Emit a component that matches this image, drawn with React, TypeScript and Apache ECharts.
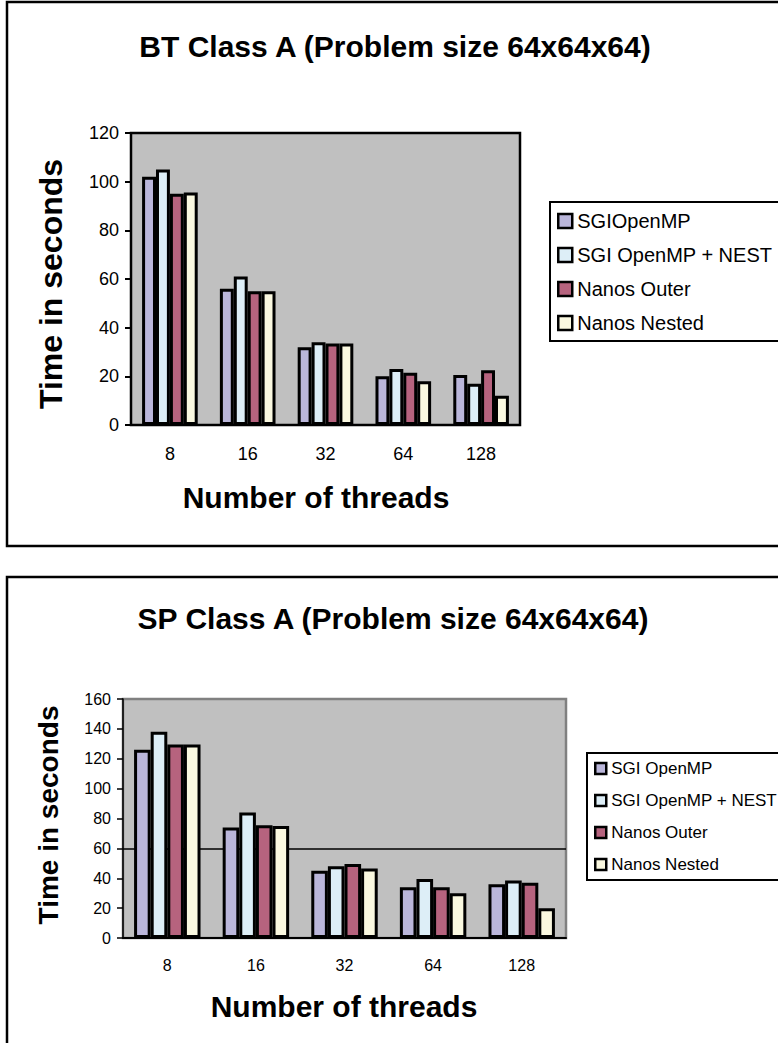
import React, { useEffect, useRef } from "react";
import * as echarts from "echarts";

const categories = ["8", "16", "32", "64", "128"];

const btTitle = "BT Class A (Problem size 64x64x64)";
const spTitle = "SP Class A (Problem size 64x64x64)";
const yTitle = "Time in seconds";
const xTitle = "Number of threads";

const btNames = ["SGIOpenMP", "SGI OpenMP + NEST", "Nanos Outer", "Nanos Nested"];
const spNames = ["SGI OpenMP", "SGI OpenMP + NEST", "Nanos Outer", "Nanos Nested"];

const btSgi = [102, 56, 32, 20, 20.5];
const btSgiNest = [105, 61, 34, 23, 17];
const btNanosOuter = [95, 55, 33.5, 21.5, 22.5];
const btNanosNested = [95.5, 55, 33.5, 18, 12];

const spSgi = [126, 74, 45, 34, 36];
const spSgiNest = [138, 84, 48, 39.5, 38.5];
const spNanosOuter = [129.5, 75.5, 49.5, 34, 37];
const spNanosNested = [129.5, 75, 46.5, 30, 20];

const spRefLine = [60];

const colors = ["#bab6da", "#ddeef7", "#b6637e", "#faf8e0"];
const FONT = "Liberation Sans, Arial, sans-serif";

export default function App() {
  const ref = useRef<HTMLDivElement>(null);

  useEffect(() => {
    document.body.style.margin = "0";
    if (!ref.current) return;
    const chart = echarts.init(ref.current, null, { renderer: "svg" });

    const btData = [btSgi, btSgiNest, btNanosOuter, btNanosNested];
    const spData = [spSgi, spSgiNest, spNanosOuter, spNanosNested];

    const series: any[] = [];
    btData.forEach((d, i) => {
      series.push({
        type: "bar",
        name: btNames[i],
        xAxisIndex: 0,
        yAxisIndex: 0,
        data: d,
        barGap: "0%",
        barCategoryGap: "28.5%",
        z: 2,
        itemStyle: { color: colors[i], borderColor: "#000", borderWidth: 3 },
      });
    });
    spData.forEach((d, i) => {
      const s: any = {
        type: "bar",
        name: spNames[i],
        xAxisIndex: 1,
        yAxisIndex: 1,
        data: d,
        barGap: "0%",
        barCategoryGap: "25%",
        z: 2,
        itemStyle: { color: colors[i], borderColor: "#000", borderWidth: 3 },
      };
      if (i === 0) {
        s.markLine = {
          silent: true,
          symbol: "none",
          z: 1,
          label: { show: false },
          lineStyle: { color: "#000", width: 1.5, type: "solid" },
          data: spRefLine.map((v) => ({ yAxis: v })),
        };
      }
      series.push(s);
    });

    const axisText = (size: number) => ({
      color: "#000",
      fontSize: size,
      fontFamily: FONT,
    });

    chart.setOption({
      animation: false,
      textStyle: { fontFamily: FONT },
      grid: [
        {
          left: 131,
          top: 133,
          width: 389,
          height: 292,
          show: true,
          backgroundColor: "#c0c0c0",
          borderColor: "#000",
          borderWidth: 2.5,
        },
        {
          left: 123,
          top: 699,
          width: 443,
          height: 239,
          show: true,
          backgroundColor: "#c0c0c0",
          borderColor: "#808080",
          borderWidth: 2.5,
        },
      ],
      xAxis: [
        {
          type: "category",
          gridIndex: 0,
          data: categories,
          axisLine: { lineStyle: { color: "#000", width: 2 } },
          axisTick: { length: 6, lineStyle: { color: "#000", width: 2 } },
          axisLabel: { ...axisText(18), margin: 20 },
          splitLine: { show: false },
        },
        {
          type: "category",
          gridIndex: 1,
          data: categories,
          axisLine: { lineStyle: { color: "#000", width: 2 } },
          axisTick: { length: 6, lineStyle: { color: "#000", width: 2 } },
          axisLabel: { ...axisText(16), margin: 19 },
          splitLine: { show: false },
        },
      ],
      yAxis: [
        {
          type: "value",
          gridIndex: 0,
          min: 0,
          max: 120,
          interval: 20,
          axisLine: { show: true, lineStyle: { color: "#000", width: 2 } },
          axisTick: { show: true, length: 6, lineStyle: { color: "#000", width: 2 } },
          axisLabel: { ...axisText(18), margin: 12 },
          splitLine: { show: false },
        },
        {
          type: "value",
          gridIndex: 1,
          min: 0,
          max: 160,
          interval: 20,
          axisLine: { show: true, lineStyle: { color: "#000", width: 1.5 } },
          axisTick: { show: true, length: 6, lineStyle: { color: "#000", width: 1.5 } },
          axisLabel: { ...axisText(16), margin: 12 },
          splitLine: { show: false },
        },
      ],
      legend: [
        {
          data: btNames,
          orient: "vertical",
          left: 550,
          top: 202,
          selectedMode: false,
          itemWidth: 14,
          itemHeight: 14,
          itemGap: 14,
          padding: [9, 40, 8, 7],
          borderColor: "#000",
          borderWidth: 2,
          backgroundColor: "#fff",
          icon: "rect",
          itemStyle: { borderColor: "#000", borderWidth: 2.5 },
          textStyle: { color: "#000", fontSize: 20, fontFamily: FONT },
        },
        {
          data: spNames,
          orient: "vertical",
          left: 587,
          top: 753,
          selectedMode: false,
          itemWidth: 11,
          itemHeight: 11,
          itemGap: 15,
          padding: [7, 40, 7, 7],
          borderColor: "#000",
          borderWidth: 2,
          backgroundColor: "#fff",
          icon: "rect",
          itemStyle: { borderColor: "#000", borderWidth: 2.5 },
          textStyle: { color: "#000", fontSize: 17, fontFamily: FONT },
        },
      ],
      graphic: [
        {
          type: "rect",
          shape: { x: 7, y: 2, width: 800, height: 544 },
          style: { fill: "none", stroke: "#000", lineWidth: 2.5 },
          silent: true,
        },
        {
          type: "rect",
          shape: { x: 7, y: 577, width: 800, height: 500 },
          style: { fill: "none", stroke: "#000", lineWidth: 2.5 },
          silent: true,
        },
        {
          type: "text",
          x: 395,
          y: 46,
          style: {
            text: btTitle,
            font: `bold 30px ${FONT}`,
            fill: "#000",
            textAlign: "center",
            textVerticalAlign: "middle",
          },
        },
        {
          type: "text",
          x: 393,
          y: 618,
          style: {
            text: spTitle,
            font: `bold 30px ${FONT}`,
            fill: "#000",
            textAlign: "center",
            textVerticalAlign: "middle",
          },
        },
        {
          type: "text",
          x: 51,
          y: 284,
          rotation: Math.PI / 2,
          style: {
            text: yTitle,
            font: `bold 32px ${FONT}`,
            fill: "#000",
            textAlign: "center",
            textVerticalAlign: "middle",
          },
        },
        {
          type: "text",
          x: 48,
          y: 815,
          rotation: Math.PI / 2,
          style: {
            text: yTitle,
            font: `bold 28px ${FONT}`,
            fill: "#000",
            textAlign: "center",
            textVerticalAlign: "middle",
          },
        },
        {
          type: "text",
          x: 316,
          y: 497,
          style: {
            text: xTitle,
            font: `bold 30px ${FONT}`,
            fill: "#000",
            textAlign: "center",
            textVerticalAlign: "middle",
          },
        },
        {
          type: "text",
          x: 344,
          y: 1006,
          style: {
            text: xTitle,
            font: `bold 30px ${FONT}`,
            fill: "#000",
            textAlign: "center",
            textVerticalAlign: "middle",
          },
        },
      ],
      series,
    });

    return () => chart.dispose();
  }, []);

  return <div ref={ref} style={{ width: 778, height: 1043 }} />;
}
